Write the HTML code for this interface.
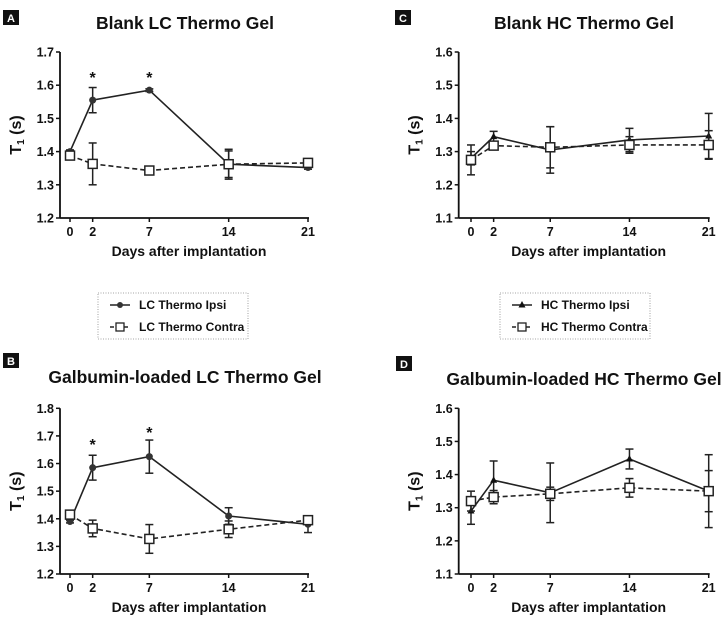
<!DOCTYPE html>
<html><head><meta charset="utf-8"><style>
body{margin:0;background:#fff;}
svg{display:block;font-family:"Liberation Sans",Arial,sans-serif;font-weight:bold;}
</style></head><body>
<svg id="fig" width="723" height="617" viewBox="0 0 723 617" xmlns="http://www.w3.org/2000/svg"></svg>
<script>
const days=[0,2,7,14,21];
const aIpsi=[1.40,1.555,1.585,1.362,1.352];
const aIpsiErr=[0.005,0.038,0.004,0.045,0.005];
const aContra=[1.388,1.363,1.343,1.362,1.366];
const aContraErr=[0.005,0.063,0.004,0.04,0.01];
const cIpsi=[1.28,1.345,1.305,1.335,1.347];
const cIpsiErr=[0.02,0.016,0.07,0.035,0.068];
const cContra=[1.275,1.318,1.313,1.32,1.32];
const cContraErr=[0.045,0.008,0.062,0.025,0.043];
const bIpsi=[1.39,1.585,1.625,1.41,1.38];
const bIpsiErr=[0.005,0.045,0.06,0.03,0.03];
const bContra=[1.415,1.365,1.327,1.362,1.395];
const bContraErr=[0.005,0.03,0.052,0.03,0.015];
const dIpsi=[1.29,1.383,1.345,1.447,1.35];
const dIpsiErr=[0.04,0.058,0.09,0.03,0.11];
const dContra=[1.32,1.332,1.342,1.36,1.35];
const dContraErr=[0.03,0.02,0.02,0.028,0.062];
const ticksA=[1.2,1.3,1.4,1.5,1.6,1.7];
const ticksB=[1.2,1.3,1.4,1.5,1.6,1.7,1.8];
const ticksCD=[1.1,1.2,1.3,1.4,1.5,1.6];
const NS="http://www.w3.org/2000/svg";
const svg=document.getElementById('fig');
function el(tag,attrs,parent,text){const e=document.createElementNS(NS,tag);for(const k in attrs)e.setAttribute(k,attrs[k]);if(text!==undefined)e.textContent=text;(parent||svg).appendChild(e);return e;}

function panel(o){
  const g=el('g',{});
  
  
  const x=d=>o.x0+(d/21)*(o.x1-o.x0);
  const ymin=o.ticks[0],ymax=o.ticks[o.ticks.length-1];
  const y=v=>o.yb-(v-ymin)/(ymax-ymin)*(o.yb-o.yt);
  // label box
  const lb=el('rect',{x:o.lx,y:o.ly,width:16,height:15,fill:'#111'},g);
  
  const lt=el('text',{x:o.lx+8,y:o.ly+12,fill:'#fff','font-size':11,'text-anchor':'middle'},g,o.id);
  
  const t=el('text',{x:o.tx,y:o.ty,'font-size':17.5,'text-anchor':'middle',fill:'#111'},g,o.title);
  
  // axes
  const ya=el('line',{x1:o.ax,y1:o.yt,x2:o.ax,y2:o.yb,stroke:'#111','stroke-width':1.8},g);
  
  const xa=el('line',{x1:o.ax,y1:o.yb,x2:o.x1+1,y2:o.yb,stroke:'#111','stroke-width':1.8},g);
  
  o.ticks.forEach(v=>{
    el('line',{x1:o.ax-4,y1:y(v),x2:o.ax,y2:y(v),stroke:'#111','stroke-width':1.5},g);
    const tl=el('text',{x:o.ax-6,y:y(v)+4.5,'font-size':12.5,'text-anchor':'end',fill:'#111'},g,v.toFixed(1));
    
  });
  days.forEach(d=>{
    el('line',{x1:x(d),y1:o.yb,x2:x(d),y2:o.yb+4,stroke:'#111','stroke-width':1.5},g);
    const tl=el('text',{x:x(d),y:o.yb+18,'font-size':12.5,'text-anchor':'middle',fill:'#111'},g,String(d));
    
  });
  const xt=el('text',{x:(o.ax+o.x1)/2+5,y:o.yb+38,'font-size':14,'text-anchor':'middle',fill:'#111'},g,'Days after implantation');
  
  const cy=(o.yt+o.yb)/2;
  const yt=el('text',{x:0,y:0,'font-size':16,'text-anchor':'middle',fill:'#111',transform:`translate(${o.ax-39},${cy}) rotate(-90)`},g);
  
  el('tspan',{},yt,'T');el('tspan',{'font-size':10,dy:3},yt,'1');el('tspan',{dy:-3},yt,' (s)');
  function series(vals,errs,dash,marker,name){
    const sg=el('g',{},g);
    
    errs.forEach((e,i)=>{
      const X=x(days[i]);
      el('line',{x1:X,y1:y(vals[i]-e),x2:X,y2:y(vals[i]+e),stroke:'#222','stroke-width':1.5},sg);
      el('line',{x1:X-4,y1:y(vals[i]-e),x2:X+4,y2:y(vals[i]-e),stroke:'#222','stroke-width':1.5},sg);
      el('line',{x1:X-4,y1:y(vals[i]+e),x2:X+4,y2:y(vals[i]+e),stroke:'#222','stroke-width':1.5},sg);
    });
    el('polyline',{points:vals.map((v,i)=>x(days[i])+','+y(v)).join(' '),fill:'none',stroke:'#222','stroke-width':1.6,'stroke-dasharray':dash?'5,3':'none'},sg);
    vals.forEach((v,i)=>{
      const X=x(days[i]),Y=y(v);let m;
      if(marker==='circle')m=el('circle',{cx:X,cy:Y,r:3.5,fill:'#333'},sg);
      else if(marker==='tri')m=el('polygon',{points:`${X},${Y-4} ${X-3.5},${Y+2.5} ${X+3.5},${Y+2.5}`,fill:'#111'},sg);
      else m=el('rect',{x:X-4.5,y:Y-4.5,width:9,height:9,fill:'#fff',stroke:'#222','stroke-width':1.5},sg);
      
    });
  }
  series(o.ipsi,o.ipsiErr,false,o.marker,'series-ipsi');
  series(o.contra,o.contraErr,true,'square','series-contra');
  (o.stars||[]).forEach(s=>{
    const st=el('text',{x:x(s[0]),y:s[1],'font-size':16,'text-anchor':'middle',fill:'#111'},g,'*');
    
  });
}
function legend(x0,y0,labels,marker,name){
  const g=el('g',{});
  
  el('rect',{x:x0,y:y0,width:150,height:46,fill:'none',stroke:'#888','stroke-width':0.8,'stroke-dasharray':'1,1.5'},g);
  [0,1].forEach(i=>{
    const yy=y0+12+i*22,xx=x0+12;
    const e=el('g',{},g);
    
    el('line',{x1:xx,y1:yy,x2:xx+20,y2:yy,stroke:'#222','stroke-width':1.5,'stroke-dasharray':i?'4,3':'none'},e);
    if(i===0){ if(marker==='circle')el('circle',{cx:xx+10,cy:yy,r:3,fill:'#333'},e);
      else el('polygon',{points:`${xx+10},${yy-4} ${xx+6.5},${yy+2.5} ${xx+13.5},${yy+2.5}`,fill:'#111'},e);}
    else el('rect',{x:xx+6,y:yy-4,width:8,height:8,fill:'#fff',stroke:'#222','stroke-width':1.3},e);
    el('text',{x:xx+29,y:yy+4,'font-size':12,fill:'#111'},e,labels[i]);
  });
}
panel({id:'A',title:'Blank LC Thermo Gel',lx:3,ly:10,tx:185,ty:29,ax:60,x0:70,x1:308,yt:52,yb:218,ticks:ticksA,ipsi:aIpsi,ipsiErr:aIpsiErr,contra:aContra,contraErr:aContraErr,marker:'circle',stars:[[2,83],[7,83]]});
panel({id:'C',title:'Blank HC Thermo Gel',lx:395,ly:10,tx:584,ty:29,ax:458.7,x0:471,x1:708.7,yt:52,yb:218,ticks:ticksCD,ipsi:cIpsi,ipsiErr:cIpsiErr,contra:cContra,contraErr:cContraErr,marker:'tri'});
panel({id:'B',title:'Galbumin-loaded LC Thermo Gel',lx:3,ly:353,tx:185,ty:383,ax:60,x0:70,x1:308,yt:408.3,yb:574,ticks:ticksB,ipsi:bIpsi,ipsiErr:bIpsiErr,contra:bContra,contraErr:bContraErr,marker:'circle',stars:[[2,450],[7,438]]});
panel({id:'D',title:'Galbumin-loaded HC Thermo Gel',lx:396,ly:356,tx:584,ty:385,ax:458.7,x0:471,x1:708.7,yt:408.3,yb:574,ticks:ticksCD,ipsi:dIpsi,ipsiErr:dIpsiErr,contra:dContra,contraErr:dContraErr,marker:'tri'});
legend(98,293,['LC Thermo Ipsi','LC Thermo Contra'],'circle','legend-lc');
legend(500,293,['HC Thermo Ipsi','HC Thermo Contra'],'tri','legend-hc');
</script>
</body></html>
